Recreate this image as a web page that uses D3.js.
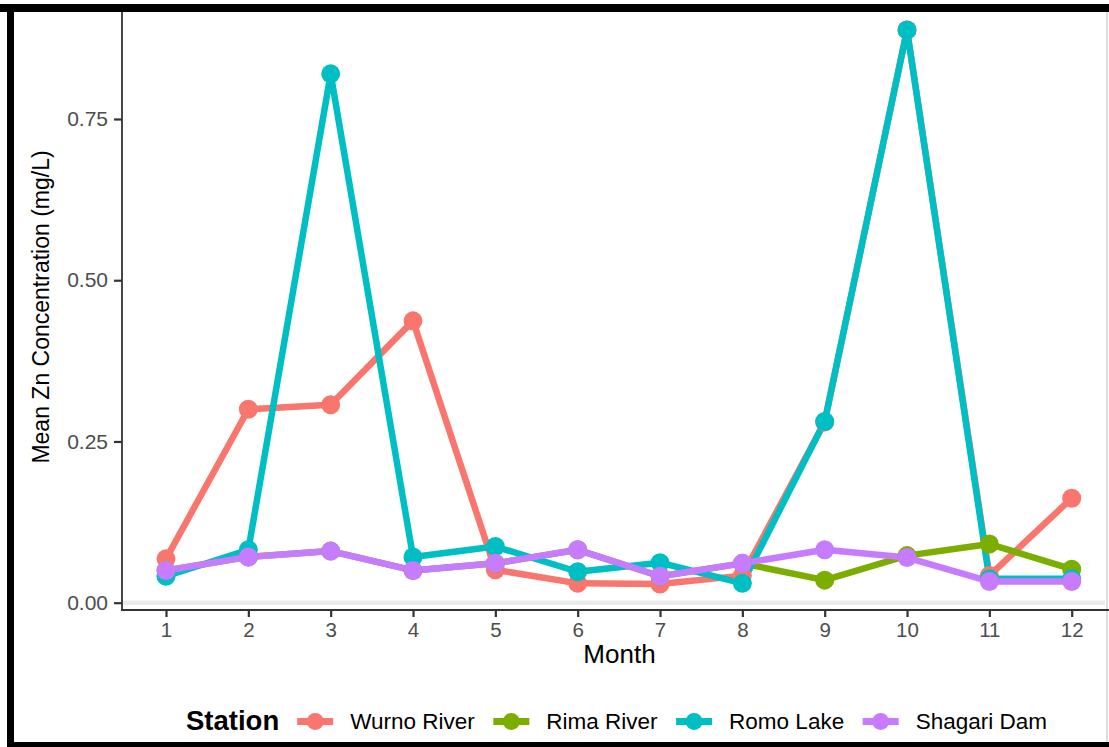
<!DOCTYPE html>
<html>
<head>
<meta charset="utf-8">
<script src="https://cdn.jsdelivr.net/npm/d3@7"></script>
<style>
  html, body { margin: 0; padding: 0; background: #fff; }
  svg text { font-family: "Liberation Sans", Arial, Helvetica, sans-serif; }
</style>
</head>
<body>
<svg id="chart" width="1109" height="747"></svg>
<script>
// Monthly mean zinc concentration (mg/L) at four sampling stations
const months = [1, 2, 3, 4, 5, 6, 7, 8, 9, 10, 11, 12];
const stations = ["Wurno River", "Rima River", "Romo Lake", "Shagari Dam"];
const stationColors = ["#F8766D", "#7CAE00", "#00BFC4", "#C77CFF"];

const wurnoRiver = [0.068, 0.300, 0.307, 0.437, 0.051, 0.030, 0.029, 0.042, 0.280, 0.888, 0.042, 0.162];
const rimaRiver  = [0.050, 0.071, 0.080, 0.050, 0.061, 0.082, 0.041, 0.061, 0.035, 0.073, 0.091, 0.052];
const romoLake   = [0.041, 0.082, 0.820, 0.071, 0.087, 0.048, 0.062, 0.030, 0.281, 0.888, 0.037, 0.037];
const shagariDam = [0.050, 0.071, 0.080, 0.050, 0.061, 0.082, 0.041, 0.061, 0.082, 0.070, 0.033, 0.033];

const yTicks = [0, 0.25, 0.5, 0.75];
const yTickLabels = ["0.00", "0.25", "0.50", "0.75"];
const xTickLabels = ["1", "2", "3", "4", "5", "6", "7", "8", "9", "10", "11", "12"];

const seriesValues = [wurnoRiver, rimaRiver, romoLake, shagariDam];
const series = stations.map((name, i) => ({
  name,
  color: stationColors[i],
  points: months.map((m, j) => ({ month: m, value: seriesValues[i][j] }))
}));

const svg = d3.select("#chart");

// panel extents
const panel = { left: 122, right: 1109, top: 12, bottom: 610 };

const x = d3.scaleLinear().domain([1, 12]).range([166, 1071.7]);
const y = d3.scaleLinear().domain([0, 0.75]).range([602.7, 119]);

// page background and right edge
svg.append("rect").attr("x", 0).attr("y", 0).attr("width", 1109).attr("height", 747).attr("fill", "#fff");
svg.append("line").attr("x1", 1107).attr("x2", 1107).attr("y1", 12).attr("y2", 742)
  .attr("stroke", "#c8c8c8").attr("stroke-width", 1.2);

// reference line at zero
svg.append("line")
  .attr("x1", panel.left).attr("x2", 1105)
  .attr("y1", y(0)).attr("y2", y(0))
  .attr("stroke", "#ebebeb").attr("stroke-width", 4.5);

// y axis
const yAxis = d3.axisLeft(y).tickValues(yTicks)
  .tickFormat((d, i) => yTickLabels[i]).tickSize(8).tickPadding(6);
const gy = svg.append("g").attr("transform", `translate(${panel.left},0)`).call(yAxis);
gy.select(".domain").remove();
gy.selectAll(".tick line").attr("stroke", "#333").attr("stroke-width", 2.2);
gy.selectAll(".tick text").attr("fill", "#4d4d4d").attr("font-size", 21)
  .attr("font-family", "Liberation Sans, Arial, sans-serif");

// x axis
const xAxis = d3.axisBottom(x).tickValues(months)
  .tickFormat((d, i) => xTickLabels[i]).tickSize(7).tickPadding(5);
const gx = svg.append("g").attr("transform", `translate(0,${panel.bottom})`).call(xAxis);
gx.select(".domain").remove();
gx.selectAll(".tick line").attr("stroke", "#333").attr("stroke-width", 2.2);
gx.selectAll(".tick text").attr("fill", "#4d4d4d").attr("font-size", 20.5)
  .attr("font-family", "Liberation Sans, Arial, sans-serif");

// axis lines
svg.append("line").attr("x1", panel.left).attr("x2", panel.left)
  .attr("y1", panel.top).attr("y2", panel.bottom + 0.8)
  .attr("stroke", "#333").attr("stroke-width", 1.8);
svg.append("line").attr("x1", panel.left - 0.9).attr("x2", panel.right)
  .attr("y1", panel.bottom).attr("y2", panel.bottom)
  .attr("stroke", "#333").attr("stroke-width", 1.8);

// series lines
const line = d3.line().x(d => x(d.month)).y(d => y(d.value));
svg.append("g").selectAll("path").data(series).join("path")
  .attr("d", d => line(d.points))
  .attr("fill", "none")
  .attr("stroke", d => d.color)
  .attr("stroke-width", 6.5)
  .attr("stroke-linejoin", "round");

// series points
svg.append("g").selectAll("g").data(series).join("g")
  .attr("fill", d => d.color)
  .selectAll("circle").data(d => d.points).join("circle")
  .attr("cx", d => x(d.month))
  .attr("cy", d => y(d.value))
  .attr("r", 9.5);

// axis titles
svg.append("text")
  .attr("x", 619.5).attr("y", 663)
  .attr("text-anchor", "middle").attr("font-size", 26).attr("fill", "#000")
  .text("Month");
svg.append("text")
  .attr("transform", "translate(49,307) rotate(-90)")
  .attr("text-anchor", "middle").attr("font-size", 23).attr("fill", "#000")
  .text("Mean Zn Concentration (mg/L)");

// legend
const legend = svg.append("g");
const legendBaseline = 729;
const legendKeyY = 721.5;
let cursor = 186;
const title = legend.append("text")
  .attr("x", cursor).attr("y", legendBaseline + 1)
  .attr("font-size", 27.5).attr("font-weight", "bold").attr("fill", "#000")
  .text("Station");
cursor += title.node().getComputedTextLength() + 18;
series.forEach(s => {
  legend.append("line")
    .attr("x1", cursor).attr("x2", cursor + 36)
    .attr("y1", legendKeyY).attr("y2", legendKeyY)
    .attr("stroke", s.color).attr("stroke-width", 7);
  legend.append("circle")
    .attr("cx", cursor + 18).attr("cy", legendKeyY).attr("r", 8.5)
    .attr("fill", s.color);
  cursor += 36 + 17;
  const t = legend.append("text")
    .attr("x", cursor).attr("y", legendBaseline)
    .attr("font-size", 22.5).attr("fill", "#000")
    .text(s.name);
  cursor += t.node().getComputedTextLength() + 18.5;
});

// black frame on top, left and bottom
svg.append("rect").attr("x", 0).attr("y", 4).attr("width", 1109).attr("height", 8).attr("fill", "#000");
svg.append("rect").attr("x", 7).attr("y", 4).attr("width", 7).attr("height", 743).attr("fill", "#000");
svg.append("rect").attr("x", 7).attr("y", 742).attr("width", 1102).attr("height", 5).attr("fill", "#000");
</script>
</body>
</html>
